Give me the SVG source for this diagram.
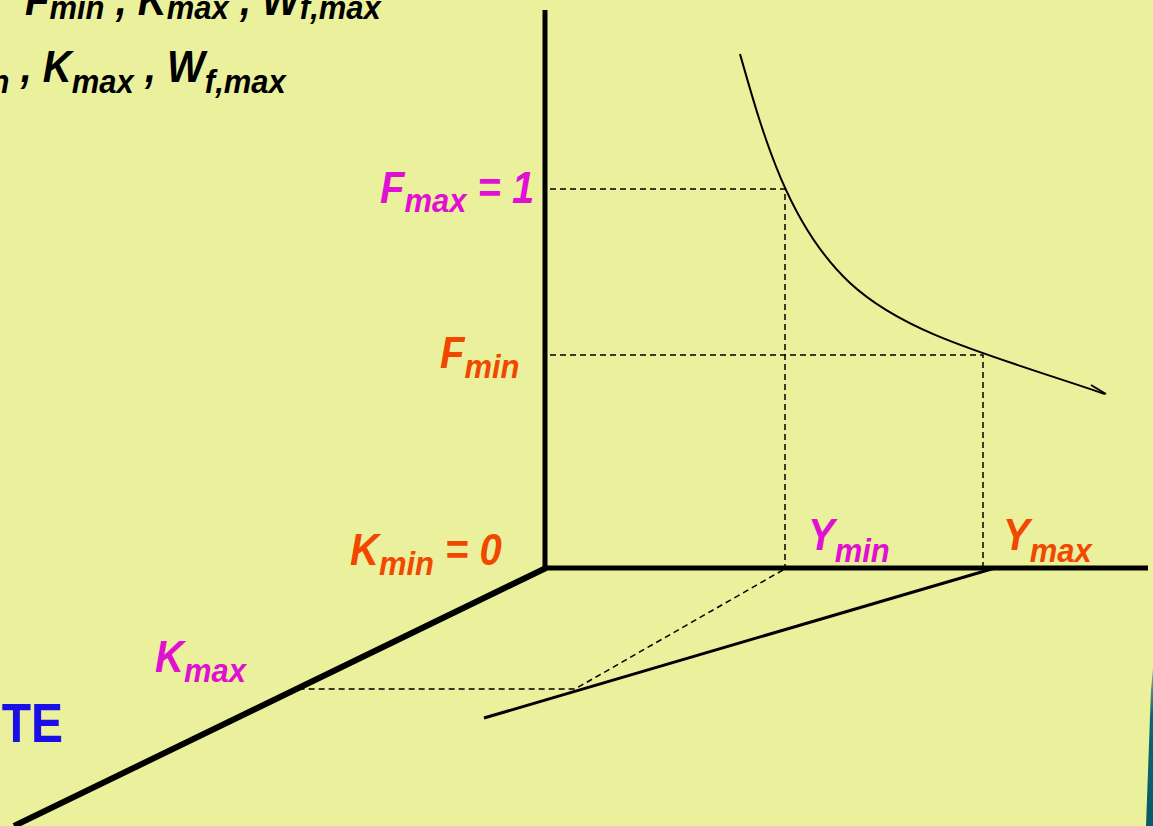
<svg xmlns="http://www.w3.org/2000/svg" width="1153" height="826" viewBox="0 0 1153 826">
<defs>
<linearGradient id="teal" x1="0" y1="0" x2="0" y2="1">
<stop offset="0" stop-color="#7FB08A"/>
<stop offset="0.3" stop-color="#0E6470"/>
<stop offset="1" stop-color="#0A5A68"/>
</linearGradient>
</defs>
<style>
.t{font-family:"Liberation Sans",Arial,sans-serif;font-weight:bold;font-style:italic;font-size:40px}
.s{font-size:31px}
.blk{fill:#000}
.mag{fill:#E010D2}
.org{fill:#F04800}
.blue{fill:#1A0FE6;font-family:"Liberation Sans",Arial,sans-serif;font-weight:bold;font-size:48px}
.ax{stroke:#000;fill:none;stroke-linecap:butt}
.dash{stroke:#000;stroke-width:1.5;stroke-dasharray:6 4;fill:none}
</style>
<rect width="1153" height="826" fill="#EBF09C"/>
<polygon points="1153,668 1153,826 1146,826 1151,690" fill="url(#teal)"/>
<g id="connectors">
<line class="ax" x1="545" y1="10" x2="545" y2="570" stroke-width="5"/>
<line class="ax" x1="543" y1="568" x2="1148" y2="568" stroke-width="5"/>
<line class="ax" x1="546" y1="568" x2="14" y2="826" stroke-width="6"/>
<line class="ax" x1="995" y1="568" x2="484" y2="718" stroke-width="3"/>
<polyline class="dash" points="550,189 785,189 785,566"/>
<polyline class="dash" points="550,355 983,355 983,566"/>
<polyline class="dash" points="783,570 575,689 300,689"/>
<path d="M740,54 C763,135 788,225 850,283 C905,334 990,355 1105,394" fill="none" stroke="#000" stroke-width="2"/>
<line x1="1091" y1="385" x2="1106" y2="394" stroke="#000" stroke-width="2"/>
</g>
<g id="top-text">
<text class="t blk" transform="translate(25,15) scale(1,1.1)">F<tspan class="s" dy="4">min</tspan><tspan dy="-4"> , K</tspan><tspan class="s" dy="4">max</tspan><tspan dy="-4"> , W</tspan><tspan class="s" dy="4">f,max</tspan></text>
<text class="t blk" transform="translate(-70,82) scale(1,1.1)">F<tspan class="s" dy="10">min</tspan><tspan dy="-10"> , K</tspan><tspan class="s" dy="10">max</tspan><tspan dy="-10"> , W</tspan><tspan class="s" dy="10">f,max</tspan></text>
</g>
<g id="fmax"><text class="t mag" transform="translate(380,203) scale(1,1.1)">F<tspan class="s" dy="8">max</tspan><tspan dy="-8"> = 1</tspan></text></g>
<g id="fmin"><text class="t org" transform="translate(440,368) scale(1,1.1)">F<tspan class="s" dy="9">min</tspan></text></g>
<g id="kmin"><text class="t org" transform="translate(350,565) scale(1,1.1)">K<tspan class="s" dy="9">min</tspan><tspan dy="-9"> = 0</tspan></text></g>
<g id="ymin"><text class="t mag" transform="translate(808,550) scale(1,1.1)">Y<tspan class="s" dy="11">min</tspan></text></g>
<g id="ymax"><text class="t org" transform="translate(1003,550) scale(1,1.1)">Y<tspan class="s" dy="11">max</tspan></text></g>
<g id="kmax"><text class="t mag" transform="translate(155,672) scale(1,1.1)">K<tspan class="s" dy="9">max</tspan></text></g>
<g id="te"><text class="blue" text-anchor="end" transform="translate(63,742) scale(1,1.15)">TE</text></g>
</svg>
